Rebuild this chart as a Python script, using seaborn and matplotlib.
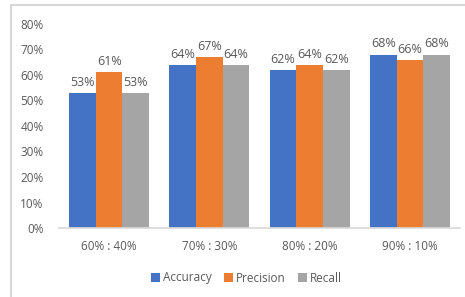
import matplotlib
matplotlib.use("Agg")
import matplotlib.pyplot as plt
import seaborn as sns
import pandas as pd
from matplotlib.patches import Rectangle

categories = ["60% : 40%", "70% : 30%", "80% : 20%", "90% : 10%"]
series = ["Accuracy", "Precision", "Recall"]
accuracy = [53, 64, 62, 68]
precision = [61, 67, 64, 66]
recall = [53, 64, 62, 68]
colors = ["#4472C4", "#ED7D31", "#A5A5A5"]

rows = []
for name, vals in zip(series, [accuracy, precision, recall]):
    for c, v in zip(categories, vals):
        rows.append({"split": c, "metric": name, "value": v})
df = pd.DataFrame(rows)

sns.set_theme(style="white")
plt.rcParams['font.family'] = ['Open Sans', 'DejaVu Sans']
txt = "#595959"

fig = plt.figure(figsize=(4.65, 2.97), dpi=100)
fig.patches.append(Rectangle((11/465, -0.1), 1.2, 1 - 5/297 + 0.1, transform=fig.transFigure,
                             fill=False, edgecolor="#D0D0D0", linewidth=1.2))
ax = fig.add_axes([59/465, 1 - 228/297, (460 - 59)/465, (228 - 24)/297])
sns.barplot(data=df, x="split", y="value", hue="metric", palette=colors,
            width=0.8, saturation=1, ax=ax, legend=True, linewidth=0, edgecolor="none")
ax.set_ylim(0, 80)
ax.set_xlim(-0.5, 3.5)
ax.set_yticks(range(0, 81, 10))
ax.set_yticklabels([f"{t}%" for t in range(0, 81, 10)], color=txt, fontsize=8.5)
ax.tick_params(axis="x", colors=txt, labelsize=8.5, pad=9, length=0)
ax.tick_params(axis="y", length=0, pad=11)
ax.set_xlabel("")
ax.set_ylabel("")
for s in ["top", "right", "left"]:
    ax.spines[s].set_visible(False)
ax.spines["bottom"].set_color("#D9D9D9")
for cont in ax.containers:
    ax.bar_label(cont, labels=[f"{v:.0f}%" for v in cont.datavalues], color=txt, fontsize=9, padding=3)

handles, labels = ax.get_legend_handles_labels()
ax.legend_.remove()
fig.legend(handles, labels, loc="center", bbox_to_anchor=(0.53, 1 - 278/297), ncol=3,
           frameon=False, fontsize=8.5, handlelength=0.75, handleheight=0.75, handletextpad=0.3,
           columnspacing=1.0, labelcolor=txt)
fig.savefig("out.png", dpi=100)
